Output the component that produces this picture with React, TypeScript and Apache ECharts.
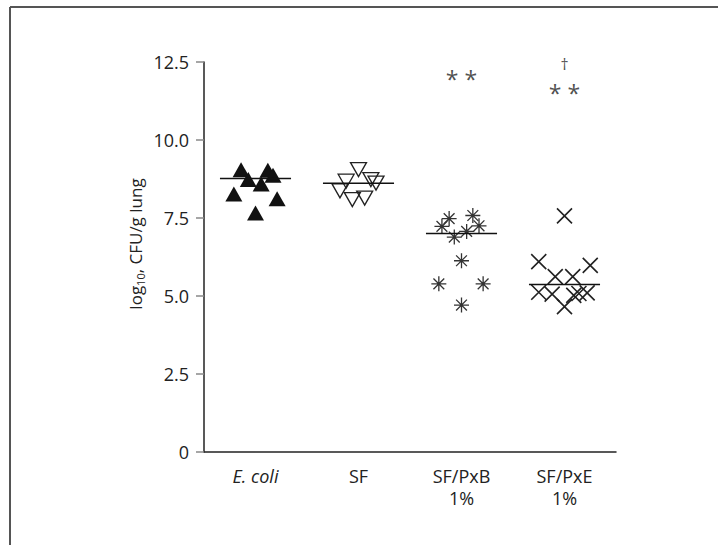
import React, { useEffect, useRef } from 'react';
import * as echarts from 'echarts';

const categories = ['E. coli', 'SF', 'SF/PxB\n1%', 'SF/PxE\n1%'];
const yTicks = [0, 2.5, 5, 7.5, 10, 12.5];

const ecoliValues = [9.05, 9.03, 8.87, 8.73, 8.59, 8.27, 8.12, 7.66];
const ecoliJitter = [-0.14, 0.12, 0.17, -0.07, 0.055, -0.21, 0.21, 0];
const sfValues = [9.05, 8.68, 8.73, 8.62, 8.37, 8.09, 8.14];
const sfJitter = [0, -0.12, 0.12, 0.17, -0.18, -0.06, 0.06];
const pxbValues = [7.48, 7.58, 7.23, 7.25, 7.07, 6.89, 6.13, 5.39, 5.39, 4.71];
const pxbJitter = [-0.12, 0.11, -0.19, 0.17, 0.05, -0.07, 0, -0.22, 0.21, 0];
const pxeValues = [7.57, 6.1, 5.98, 5.62, 5.62, 5.12, 5.06, 4.66, 5.02, 5.08, 5.1];
const pxeJitter = [0, -0.25, 0.25, -0.09, 0.08, -0.25, -0.12, 0, 0.09, 0.14, 0.22];
const centralValues = [8.77, 8.61, 7.0, 5.37];
const centralHalfWidth = 0.345;
const starCats = [2, 3];
const starValues = [11.95, 11.5];
const starText = '* *';
const daggerCats = [3];
const daggerValues = [12.42];
const daggerText = '†';

const FONT = '"Open Sans", "Noto Sans", sans-serif';

const pts = (vals: number[], jit: number[], cat: number) =>
  vals.map((v, i) => [cat + jit[i], v]);

const ASTERISK =
  'path://M0,-1L0,1M-1,0L1,0M-0.72,-0.72L0.72,0.72M-0.72,0.72L0.72,-0.72';
const CROSS = 'path://M-1,-1L1,1M-1,1L1,-1';
const DOWN_TRI = 'path://M0,0L2,0L1,1.8Z';

export default function App() {
  const ref = useRef<HTMLDivElement>(null);
  useEffect(() => {
    if (!ref.current) return;
    const chart = echarts.init(ref.current, undefined, { renderer: 'svg' });
    const markerBase = { type: 'scatter', xAxisIndex: 1, yAxisIndex: 0, z: 3 };
    chart.setOption({
      animation: false,
      grid: { left: 204, right: 102, top: 62, bottom: 93, containLabel: false },
      xAxis: [
        {
          type: 'category',
          data: categories,
          boundaryGap: true,
          axisLine: { onZero: false, lineStyle: { color: '#222', width: 1.5 } },
          axisTick: { alignWithLabel: true, interval: 0, length: 9, lineStyle: { color: '#888', width: 1.5 } },
          axisLabel: {
            interval: 0,
            fontSize: 18,
            color: '#222',
            margin: 13,
            lineHeight: 22,
            fontFamily: FONT,
            formatter: (v: string) => (v === 'E. coli' ? '{i|E. coli}' : v),
            rich: {
              i: { fontStyle: 'italic', fontSize: 18, color: '#222', fontFamily: FONT, lineHeight: 22 },
            },
          },
          splitLine: { show: false },
        },
        { type: 'value', min: -0.5, max: 3.5, show: false },
      ],
      yAxis: {
        type: 'value',
        min: yTicks[0],
        max: yTicks[yTicks.length - 1],
        interval: 2.5,
        axisLine: { show: true, onZero: false, lineStyle: { color: '#222', width: 1.5 } },
        axisTick: { show: true, length: 8, lineStyle: { color: '#888', width: 1.5 } },
        axisLabel: {
          fontSize: 18,
          color: '#222',
          margin: 15,
          fontFamily: FONT,
          formatter: (v: number) => (v === 0 ? '0' : v.toFixed(1)),
        },
        splitLine: { show: false },
      },
      graphic: [
        { type: 'line', shape: { x1: 10, y1: 7, x2: 718, y2: 7 }, style: { stroke: '#555', lineWidth: 2 } },
        { type: 'line', shape: { x1: 10, y1: 7, x2: 10, y2: 545 }, style: { stroke: '#555', lineWidth: 2 } },
        {
          type: 'text',
          x: 135,
          y: 244,
          rotation: Math.PI / 2,
          style: {
            text: '{a|log}{s|10}{a|, CFU/g lung}',
            align: 'center',
            verticalAlign: 'middle',
            rich: {
              a: { fontSize: 17, lineHeight: 21, fill: '#222', fontFamily: FONT },
              s: { fontSize: 11, lineHeight: 11, verticalAlign: 'bottom', fill: '#222', fontFamily: FONT },
            },
          },
        },
      ],
      series: [
        {
          ...markerBase,
          data: pts(ecoliValues, ecoliJitter, 0),
          symbol: 'triangle',
          symbolSize: [17, 15],
          itemStyle: { color: '#111', opacity: 1 },
        },
        {
          ...markerBase,
          data: pts(sfValues, sfJitter, 1),
          symbol: DOWN_TRI,
          symbolSize: [16, 14],
          itemStyle: { color: 'transparent', borderColor: '#222', borderWidth: 1.3, opacity: 1 },
        },
        {
          ...markerBase,
          data: pts(pxbValues, pxbJitter, 2),
          symbol: ASTERISK,
          symbolSize: 15,
          itemStyle: { color: 'transparent', borderColor: '#333', borderWidth: 1.3, opacity: 1 },
        },
        {
          ...markerBase,
          data: pts(pxeValues, pxeJitter, 3),
          symbol: CROSS,
          symbolSize: 15,
          itemStyle: { color: 'transparent', borderColor: '#222', borderWidth: 1.6, opacity: 1 },
        },
        ...centralValues.map((m, i) => ({
          type: 'line',
          xAxisIndex: 1,
          yAxisIndex: 0,
          z: 4,
          symbol: 'none',
          data: [
            [i - centralHalfWidth, m],
            [i + centralHalfWidth, m],
          ],
          lineStyle: { color: '#111', width: 1.5 },
        })),
        {
          type: 'scatter',
          xAxisIndex: 1,
          yAxisIndex: 0,
          symbolSize: 0,
          data: starCats.map((c, i) => [c, starValues[i]]),
          label: {
            show: true,
            position: 'inside',
            formatter: () => starText,
            fontSize: 23,
            lineHeight: 16,
            color: '#222',
            fontFamily: FONT,
          },
        },
        {
          type: 'scatter',
          xAxisIndex: 1,
          yAxisIndex: 0,
          symbolSize: 0,
          data: daggerCats.map((c, i) => [c, daggerValues[i]]),
          label: {
            show: true,
            position: 'inside',
            formatter: () => daggerText,
            fontSize: 16,
            lineHeight: 14,
            color: '#222',
            fontFamily: FONT,
          },
        },
      ],
    });
    return () => chart.dispose();
  }, []);
  return (
    <div
      ref={ref}
      style={{ position: 'fixed', left: 0, top: 0, width: 718, height: 545, background: '#fff' }}
    />
  );
}
